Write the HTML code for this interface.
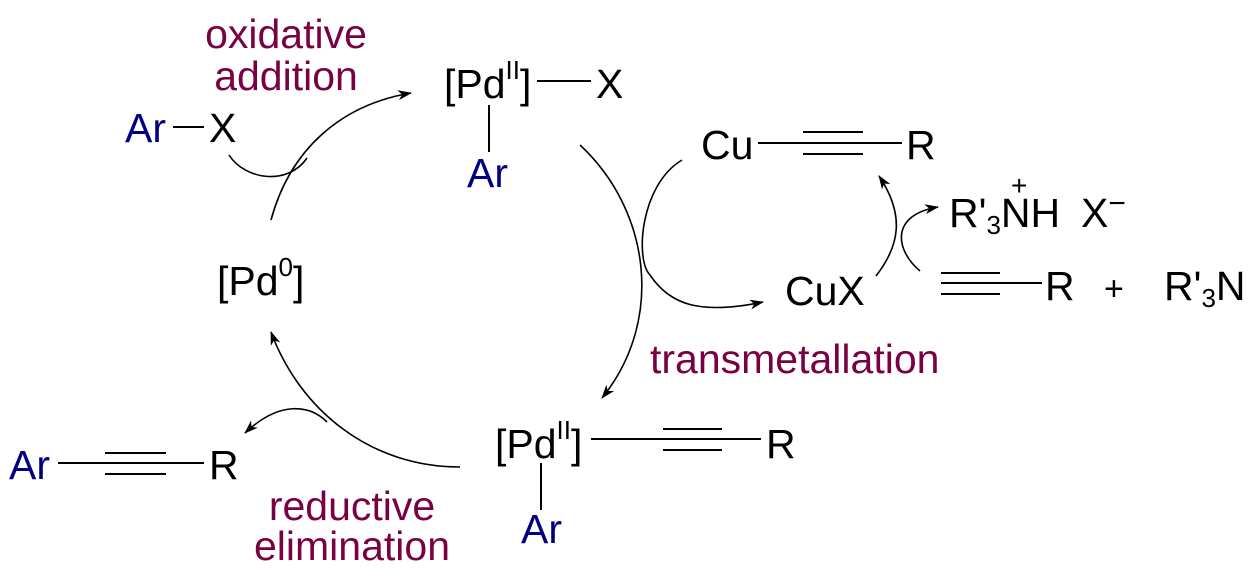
<!DOCTYPE html>
<html><head><meta charset="utf-8"><style>
html,body{margin:0;padding:0;background:#fff;}
svg{display:block;}
text{font-family:"Liberation Sans",sans-serif;font-size:41px;}
.m{fill:#7a0044;}
.b{fill:#000080;}
.k{fill:#000;}
.s{font-size:26px;}
</style></head><body>
<svg width="1257" height="579" viewBox="0 0 1257 579" xmlns="http://www.w3.org/2000/svg">
<defs>
<marker id="ah" markerWidth="14" markerHeight="10" refX="13" refY="5" orient="auto" markerUnits="userSpaceOnUse">
<path d="M0,0 L14,5 L0,10 L4,5 z" fill="#000"/>
</marker>
</defs>
<g fill="none" stroke="#000" stroke-width="1.6">
<path d="M271,220 C290,150 340,105 411,93" marker-end="url(#ah)"/>
<path d="M229,155 C245,180 288,186 307,158"/>
<path d="M580,145 C650,210 665,320 602,398" marker-end="url(#ah)"/>
<path d="M682,160 C640,185 635,260 650,275 C670,305 700,315 763,302" marker-end="url(#ah)"/>
<path d="M876,276 C900,245 905,215 879,176" marker-end="url(#ah)"/>
<path d="M920,271 C895,250 890,215 938,207" marker-end="url(#ah)"/>
<path d="M460,467 C370,467 300,410 271,332" marker-end="url(#ah)"/>
<path d="M327,422 C310,405 280,400 245,433" marker-end="url(#ah)"/>
</g>
<g stroke="#000" stroke-width="2">
<line x1="173" y1="127" x2="204" y2="127"/>
<line x1="537" y1="81" x2="591" y2="81"/>
<line x1="489" y1="105" x2="489" y2="152"/>
<line x1="758" y1="143" x2="902" y2="143"/>
<line x1="803" y1="132" x2="863" y2="132"/>
<line x1="803" y1="154" x2="863" y2="154"/>
<line x1="941" y1="283" x2="1042" y2="283"/>
<line x1="941" y1="273" x2="1000" y2="273"/>
<line x1="941" y1="294" x2="1000" y2="294"/>
<line x1="591" y1="439" x2="761" y2="439"/>
<line x1="663" y1="429" x2="722" y2="429"/>
<line x1="663" y1="450" x2="722" y2="450"/>
<line x1="541" y1="463" x2="541" y2="510"/>
<line x1="58" y1="463" x2="204" y2="463"/>
<line x1="105" y1="453" x2="166" y2="453"/>
<line x1="105" y1="474" x2="166" y2="474"/>
</g>
<text class="m" x="286" y="48" text-anchor="middle">oxidative</text>
<text class="m" x="286" y="90" text-anchor="middle">addition</text>
<text class="b" x="125" y="142">Ar</text>
<text class="k" x="209" y="142">X</text>
<text class="k" x="444" y="98">[Pd<tspan class="s" dy="-19">II</tspan><tspan dy="19">]</tspan></text>
<text class="k" x="596" y="98">X</text>
<text class="b" x="467" y="187">Ar</text>
<text class="k" x="217" y="295">[Pd<tspan class="s" dy="-19">0</tspan><tspan dy="19">]</tspan></text>
<text class="k" x="701" y="159">Cu</text>
<text class="k" x="906" y="159">R</text>
<text class="k" x="949" y="227">R'<tspan class="s" dy="7">3</tspan><tspan dy="-7">NH</tspan></text>
<text class="k" x="1011" y="195" style="font-size:28px">+</text>
<text class="k" x="1081" y="227">X<tspan style="font-size:30px" dy="-14">−</tspan></text>
<text class="k" x="785" y="305">CuX</text>
<text class="k" x="1045" y="300">R</text>
<text class="k" x="1104" y="300" style="font-size:34px">+</text>
<text class="k" x="1164" y="300">R'<tspan class="s" dy="7">3</tspan><tspan dy="-7">N</tspan></text>
<text class="m" x="650" y="373">transmetallation</text>
<text class="k" x="495" y="458">[Pd<tspan class="s" dy="-19">II</tspan><tspan dy="19">]</tspan></text>
<text class="k" x="766" y="458">R</text>
<text class="b" x="521" y="543">Ar</text>
<text class="b" x="9" y="479">Ar</text>
<text class="k" x="209" y="479">R</text>
<text class="m" x="352" y="520" text-anchor="middle">reductive</text>
<text class="m" x="352" y="560" text-anchor="middle">elimination</text>
</svg>
</body></html>
